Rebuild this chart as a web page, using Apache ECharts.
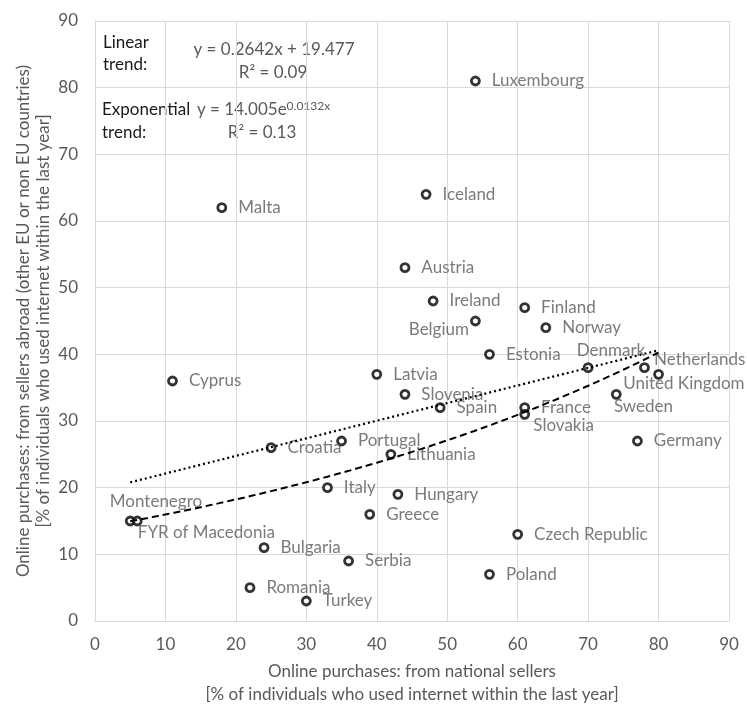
<!DOCTYPE html>
<html>
<head>
<meta charset="utf-8">
<script src="https://cdn.jsdelivr.net/npm/echarts@6/dist/echarts.min.js"></script>
<style>
  html, body { margin: 0; padding: 0; background: #fff; }
  #chart { width: 747px; height: 704px; }
</style>
</head>
<body>
<div id="chart"></div>
<script>
// Country names and the two shares (% of internet users, last year)
const countries = [
  'Luxembourg', 'Iceland', 'Malta', 'Austria', 'Ireland', 'Finland', 'Belgium',
  'Norway', 'Estonia', 'Denmark', 'Netherlands', 'United Kingdom', 'Latvia',
  'Cyprus', 'Slovenia', 'Sweden', 'Spain', 'France', 'Slovakia', 'Germany',
  'Portugal', 'Croatia', 'Lithuania', 'Italy', 'Hungary', 'Greece',
  'Montenegro', 'FYR of Macedonia', 'Czech Republic', 'Bulgaria', 'Serbia',
  'Poland', 'Romania', 'Turkey'
];
// Online purchases from national sellers
const national = [
  54, 47, 18, 44, 48, 61, 54,
  64, 56, 70, 78, 80, 40,
  11, 44, 74, 49, 61, 61, 77,
  35, 25, 42, 33, 43, 39,
  5, 6, 60, 24, 36,
  56, 22, 30
];
// Online purchases from sellers abroad (other EU or non EU countries)
const abroad = [
  81, 64, 62, 53, 48, 47, 45,
  44, 40, 38, 38, 37, 37,
  36, 34, 34, 32, 32, 31, 27,
  27, 26, 25, 20, 19, 16,
  15, 15, 13, 11, 9,
  7, 5, 3
];
const axisTicks = [0, 10, 20, 30, 40, 50, 60, 70, 80, 90];

// Fitted trend coefficients
const linearSlope = 0.2642, linearIntercept = 19.477, linearR2 = '0.09';
const expCoef = 14.005, expRate = 0.0132, expR2 = '0.13';

const FONT = 'Lato';
const GREY = '#595959';

// Trend lines span the observed range of the x variable
const xMin = Math.min(...national), xMax = Math.max(...national);
const linearLine = [], expLine = [];
for (let i = 0; i <= 60; i++) {
  const x = xMin + (xMax - xMin) * i / 60;
  linearLine.push([x, linearSlope * x + linearIntercept]);
  expLine.push([x, expCoef * Math.exp(expRate * x)]);
}

// Hand-placed labels where the default (right of the marker) would collide.
// dx/dy: offset of the label anchor from the marker centre, in px.
const HALF = 4;
const labelPlacement = {
  'Belgium':          { dx: -5,  dy: 10,  align: 'right' },
  'Montenegro':       { dx: -19, dy: -18, align: 'left' },
  'FYR of Macedonia': { dx: 2,   dy: 13,  align: 'left' },
  'Denmark':          { dx: -10, dy: -16, align: 'left' },
  'Netherlands':      { dx: 11,  dy: -7,  align: 'left' },
  'United Kingdom':   { dx: -34, dy: 11,  align: 'left' },
  'Sweden':           { dx: -1,  dy: 14,  align: 'left' },
  'Slovakia':         { dx: 10,  dy: 13,  align: 'left' }
};

const points = countries.map((name, i) => {
  const item = { name: name, value: [national[i], abroad[i]] };
  const p = labelPlacement[name];
  if (p) {
    item.label = {
      position: [p.dx + HALF, p.dy + HALF],
      align: p.align,
      verticalAlign: 'middle'
    };
  }
  return item;
});

const chart = echarts.init(document.getElementById('chart'), null, { renderer: 'canvas' });

const axisCommon = {
  type: 'value',
  min: axisTicks[0],
  max: axisTicks[axisTicks.length - 1],
  interval: axisTicks[1] - axisTicks[0],
  axisLine: { show: true, lineStyle: { color: '#d9d9d9', width: 1 } },
  axisTick: { show: false },
  splitLine: { show: true, lineStyle: { color: '#d9d9d9', width: 1 } },
  axisLabel: { color: GREY, fontFamily: FONT, fontSize: 17 }
};

chart.setOption({
  animation: false,
  backgroundColor: '#ffffff',
  grid: { left: 95, right: 18, top: 21, bottom: 83, containLabel: false },
  xAxis: Object.assign({}, axisCommon, {
    axisLabel: Object.assign({}, axisCommon.axisLabel, { margin: 15 })
  }),
  yAxis: Object.assign({}, axisCommon, {
    axisLabel: Object.assign({}, axisCommon.axisLabel, { margin: 17 })
  }),
  series: [
    {
      type: 'scatter',
      z: 2,
      symbol: 'circle',
      symbolSize: 8,
      itemStyle: { color: '#ffffff', borderColor: '#000000', borderWidth: 2.8 },
      label: {
        show: true,
        position: 'right',
        distance: 11,
        formatter: '{b}',
        color: GREY,
        fontFamily: FONT,
        fontSize: 17
      },
      emphasis: { disabled: true },
      data: points
    },
    {
      type: 'line',
      z: 3,
      showSymbol: false,
      silent: true,
      lineStyle: { color: '#000000', width: 2.2, type: [2, 3] },
      data: linearLine
    },
    {
      type: 'line',
      z: 3,
      showSymbol: false,
      silent: true,
      lineStyle: { color: '#000000', width: 2, type: [7, 4] },
      data: expLine
    }
  ],
  graphic: [
    // axis titles
    {
      type: 'text', x: 412, y: 683,
      style: {
        text: 'Online purchases: from national sellers\n[% of individuals who used internet within the last year]',
        font: '17px ' + FONT, fill: GREY, align: 'center', verticalAlign: 'middle', lineHeight: 23
      }
    },
    {
      type: 'text', x: 34, y: 321, rotation: Math.PI / 2,
      style: {
        text: 'Online purchases: from sellers abroad (other EU or non EU countries)\n[% of individuals who used internet within the last year]',
        font: '17px ' + FONT, fill: GREY, align: 'center', verticalAlign: 'middle', lineHeight: 20
      }
    },
    // trend annotations
    {
      type: 'text', x: 103, y: 54,
      style: { text: 'Linear\ntrend:', font: '17px ' + FONT, fill: '#1a1a1a', align: 'left', verticalAlign: 'middle', lineHeight: 22 }
    },
    {
      type: 'text', x: 274, y: 50,
      style: { text: 'y = ' + linearSlope + 'x + ' + linearIntercept, font: '17px ' + FONT, fill: GREY, align: 'center', verticalAlign: 'middle' }
    },
    {
      type: 'text', x: 273, y: 73,
      style: { text: 'R² = ' + linearR2, font: '17px ' + FONT, fill: GREY, align: 'center', verticalAlign: 'middle' }
    },
    {
      type: 'text', x: 102, y: 121.5,
      style: { text: 'Exponential\ntrend:', font: '17px ' + FONT, fill: '#1a1a1a', align: 'left', verticalAlign: 'middle', lineHeight: 23 }
    },
    {
      type: 'text', x: 197, y: 110,
      style: {
        text: '{a|y = ' + expCoef.toFixed(3) + 'e}{s|' + expRate + 'x}',
        align: 'left', verticalAlign: 'middle',
        rich: {
          a: { font: '17px ' + FONT, fill: GREY, lineHeight: 20 },
          s: { font: '12px ' + FONT, fill: GREY, verticalAlign: 'top', lineHeight: 14 }
        }
      }
    },
    {
      type: 'text', x: 262, y: 133,
      style: { text: 'R² = ' + expR2, font: '17px ' + FONT, fill: GREY, align: 'center', verticalAlign: 'middle' }
    }
  ]
});
</script>
</body>
</html>
